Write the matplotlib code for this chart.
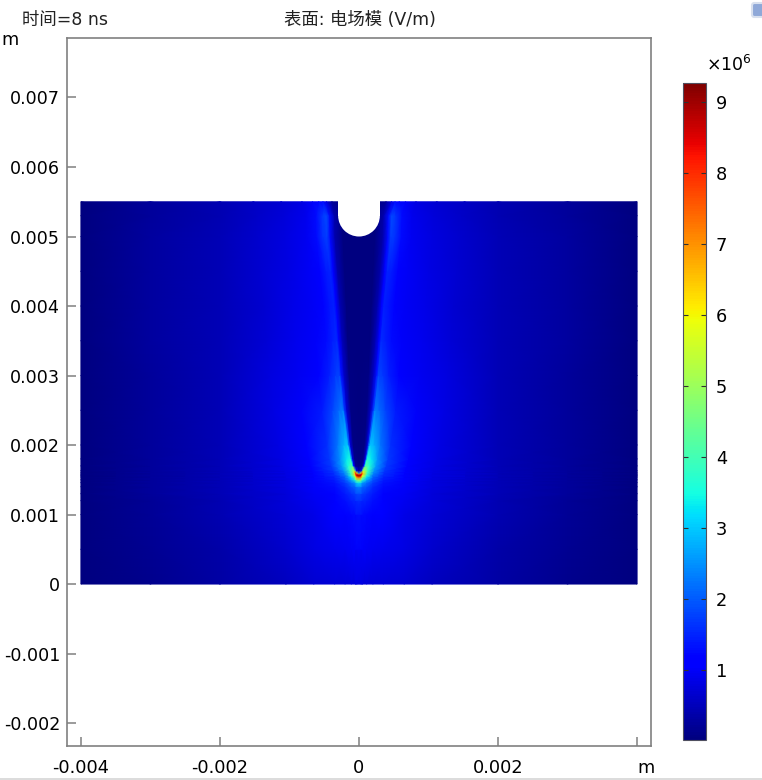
import numpy as np
import matplotlib
matplotlib.use("Agg")
import matplotlib.pyplot as plt
from matplotlib.patches import Circle, Rectangle, FancyBboxPatch

W, H = 762, 780
GREY = "#808080"

# heights of the table rows (mm) and channel half width at each of them (mm)
y_rows = [0, 0.5, 1.0, 1.2, 1.3, 1.4, 1.46, 1.5, 1.54, 1.56, 1.58, 1.6, 1.63,
          1.7, 1.8, 2.0, 2.5, 3.0, 3.5, 4.0, 4.5, 5.0, 5.3, 5.5]
ridge = [0.05, 0.05, 0.05, 0.05, 0.05, 0.05, 0.05, 0.05, 0.05, 0.05, 0.055, 0.06, 0.07,
         0.095, 0.12, 0.16, 0.23, 0.28, 0.32, 0.36, 0.41, 0.46, 0.47, 0.52]

# column positions: fraction of the ridge, then offset past it (mm), then absolute (mm)
inner_frac = [0, 0.5, 0.75, 0.9, 1.0]
outer_offset = [0.06, 0.15, 0.3, 0.6, 1.0]
far_x = [2.0, 3.0, 4.0]

# field norm, right half of the domain (1e6 V/m)
field_half = [
    [0.75, 0.75, 0.75, 0.75, 0.75, 0.75, 0.74, 0.73, 0.70, 0.55, 0.32, 0.15, 0.04],
    [1.00, 1.00, 1.00, 1.00, 1.00, 0.98, 0.95, 0.90, 0.82, 0.65, 0.38, 0.18, 0.04],
    [1.30, 1.30, 1.29, 1.28, 1.27, 1.24, 1.17, 1.05, 0.88, 0.72, 0.43, 0.22, 0.05],
    [1.60, 1.60, 1.58, 1.55, 1.52, 1.45, 1.30, 1.12, 0.93, 0.75, 0.45, 0.23, 0.05],
    [1.85, 1.85, 1.82, 1.78, 1.72, 1.60, 1.40, 1.18, 0.97, 0.77, 0.46, 0.24, 0.05],
    [2.40, 2.35, 2.30, 2.20, 2.10, 1.90, 1.55, 1.25, 1.00, 0.78, 0.46, 0.24, 0.05],
    [3.30, 3.20, 3.00, 2.80, 2.60, 2.20, 1.75, 1.33, 1.03, 0.80, 0.47, 0.24, 0.05],
    [5.00, 4.80, 4.50, 4.10, 3.70, 2.70, 1.90, 1.40, 1.06, 0.80, 0.47, 0.25, 0.05],
    [7.50, 7.20, 6.60, 5.80, 5.00, 3.20, 2.10, 1.50, 1.09, 0.82, 0.47, 0.25, 0.05],
    [9.25, 8.80, 8.00, 6.80, 5.80, 3.60, 2.20, 1.55, 1.11, 0.82, 0.47, 0.25, 0.05],
    [8.00, 8.80, 8.40, 7.50, 6.40, 3.80, 2.30, 1.58, 1.12, 0.83, 0.47, 0.25, 0.05],
    [2.50, 6.00, 8.00, 7.50, 6.20, 3.80, 2.40, 1.60, 1.13, 0.84, 0.48, 0.25, 0.05],
    [0.30, 1.00, 4.50, 5.80, 5.40, 3.90, 2.50, 1.65, 1.14, 0.84, 0.48, 0.25, 0.05],
    [0.08, 0.15, 1.00, 3.00, 4.20, 3.60, 2.60, 1.70, 1.15, 0.85, 0.48, 0.25, 0.05],
    [0.05, 0.10, 0.80, 2.60, 3.60, 3.30, 2.50, 1.70, 1.12, 0.85, 0.48, 0.25, 0.05],
    [0.04, 0.08, 0.70, 2.20, 3.00, 2.80, 2.25, 1.60, 1.10, 0.85, 0.48, 0.26, 0.05],
    [0.03, 0.06, 0.70, 1.70, 2.30, 2.15, 1.80, 1.40, 1.03, 0.82, 0.48, 0.26, 0.05],
    [0.03, 0.06, 0.60, 1.35, 1.80, 1.70, 1.45, 1.15, 0.95, 0.78, 0.48, 0.27, 0.05],
    [0.03, 0.05, 0.50, 1.15, 1.55, 1.45, 1.25, 1.03, 0.90, 0.74, 0.48, 0.28, 0.05],
    [0.03, 0.05, 0.45, 1.05, 1.45, 1.38, 1.18, 0.98, 0.86, 0.70, 0.48, 0.28, 0.05],
    [0.03, 0.05, 0.40, 1.10, 1.50, 1.42, 1.18, 0.96, 0.83, 0.68, 0.48, 0.28, 0.04],
    [0.03, 0.05, 0.40, 1.25, 1.75, 1.62, 1.25, 0.95, 0.80, 0.65, 0.47, 0.28, 0.04],
    [0.05, 0.05, 0.40, 1.30, 1.85, 1.65, 1.25, 0.92, 0.76, 0.62, 0.45, 0.27, 0.04],
    [0.10, 0.10, 0.25, 0.85, 1.25, 1.20, 1.00, 0.82, 0.68, 0.58, 0.42, 0.25, 0.04],
]

x_ticks = [-0.004, -0.002, 0, 0.002, 0.004]
x_labels = ["-0.004", "-0.002", "0", "0.002", ""]
y_ticks = [-0.002, -0.001, 0, 0.001, 0.002, 0.003, 0.004, 0.005, 0.006, 0.007]
y_labels = ["-0.002", "-0.001", "0", "0.001", "0.002", "0.003", "0.004", "0.005", "0.006", "0.007"]
cbar_ticks = [1, 2, 3, 4, 5, 6, 7, 8, 9]


def px_axes(fig, left, top, right, bottom):
    return fig.add_axes([left / W, 1 - bottom / H, (right - left) / W, (bottom - top) / H])


def build_mesh():
    """Mirror the half table and lay its columns along the channel ridge."""
    r = np.array(ridge)[:, None]
    y = np.array(y_rows)[:, None]
    inner = r * np.array(inner_frac)
    outer = r + np.array(outer_offset)
    far = np.tile(far_x, (len(y_rows), 1))
    x_half = np.hstack([inner, outer, far])
    field = np.array(field_half)

    x = np.hstack([-x_half[:, :0:-1], x_half])
    z = np.hstack([field[:, :0:-1], field])
    yy = np.tile(y, (1, x.shape[1]))
    return x * 1e-3, yy * 1e-3, z


fig = plt.figure(figsize=(W / 100, H / 100), dpi=100)
ax = px_axes(fig, 67, 38, 651, 746)

x, y, z = build_mesh()
mesh = ax.pcolormesh(x, y, z, cmap="jet", vmin=0.02, vmax=9.27, shading="gouraud", rasterized=True)

# semicircular gap cut in the top of the domain
ax.add_patch(Rectangle((-0.0003, 0.0053), 0.0006, 0.00025, fc="white", ec="none", zorder=3))
ax.add_patch(Circle((0, 0.0053), 0.0003, fc="white", ec="none", zorder=3))

ax.set_xlim(-0.0042, 0.0042)
ax.set_ylim(-0.00233, 0.007856)
ax.set_xticks(x_ticks)
ax.set_xticklabels(x_labels)
ax.set_yticks(y_ticks)
ax.set_yticklabels(y_labels)
ax.tick_params(axis="both", direction="in", length=6.5, width=1.1, color=GREY, labelsize=12.6)
ax.tick_params(axis="x", labelsize=12.8, pad=9.5)
ax.tick_params(axis="y", pad=5)
for spine in ax.spines.values():
    spine.set_color(GREY)
    spine.set_linewidth(1.2)

cax = px_axes(fig, 683, 83, 706, 740)
cbar = fig.colorbar(mesh, cax=cax)
cbar.set_ticks(cbar_ticks)
cbar.set_ticklabels([str(t) for t in cbar_ticks])
cax.tick_params(axis="y", direction="in", left=True, right=True, length=3.5, width=0.8,
                color="#303030", labelsize=12.8, pad=7)
cbar.outline.set_edgecolor("#505060")
cbar.outline.set_linewidth(0.8)

# DejaVu first so latin text matches, CJK picked up as the fallback
title_font = ["DejaVu Sans", "Noto Sans CJK SC"]
fig.text(22 / W, 1 - 20 / H, "时间=8 ns", family=title_font, fontsize=12.5, ha="left", va="center", color="#222222")
fig.text(359.5 / W, 1 - 20 / H, "表面: 电场模 (V/m)", family=title_font, fontsize=12.5, ha="center", va="center", color="#222222")
fig.text(10 / W, 1 - 40 / H, "m", fontsize=12.8, ha="center", va="center")
fig.text(646 / W, 1 - 768 / H, "m", fontsize=12.8, ha="center", va="center")
fig.text(706 / W, 1 - 71 / H, r"$\times10^{6}$", fontsize=12.5, ha="left", va="baseline")

# scraps from the screenshot: corner icon and the grey strip along the bottom
fig.add_artist(FancyBboxPatch((752 / W, 1 - 17 / H), 14 / W, 14 / H, boxstyle="round,pad=0,rounding_size=0.003",
                              transform=fig.transFigure, fc="#8fa8d8", ec="#d8e0ee", lw=1.5))
fig.add_artist(Rectangle((0, 0), 1, 2 / H, transform=fig.transFigure, fc="#dcdcdc", ec="none"))

fig.savefig("out.png", dpi=100)
